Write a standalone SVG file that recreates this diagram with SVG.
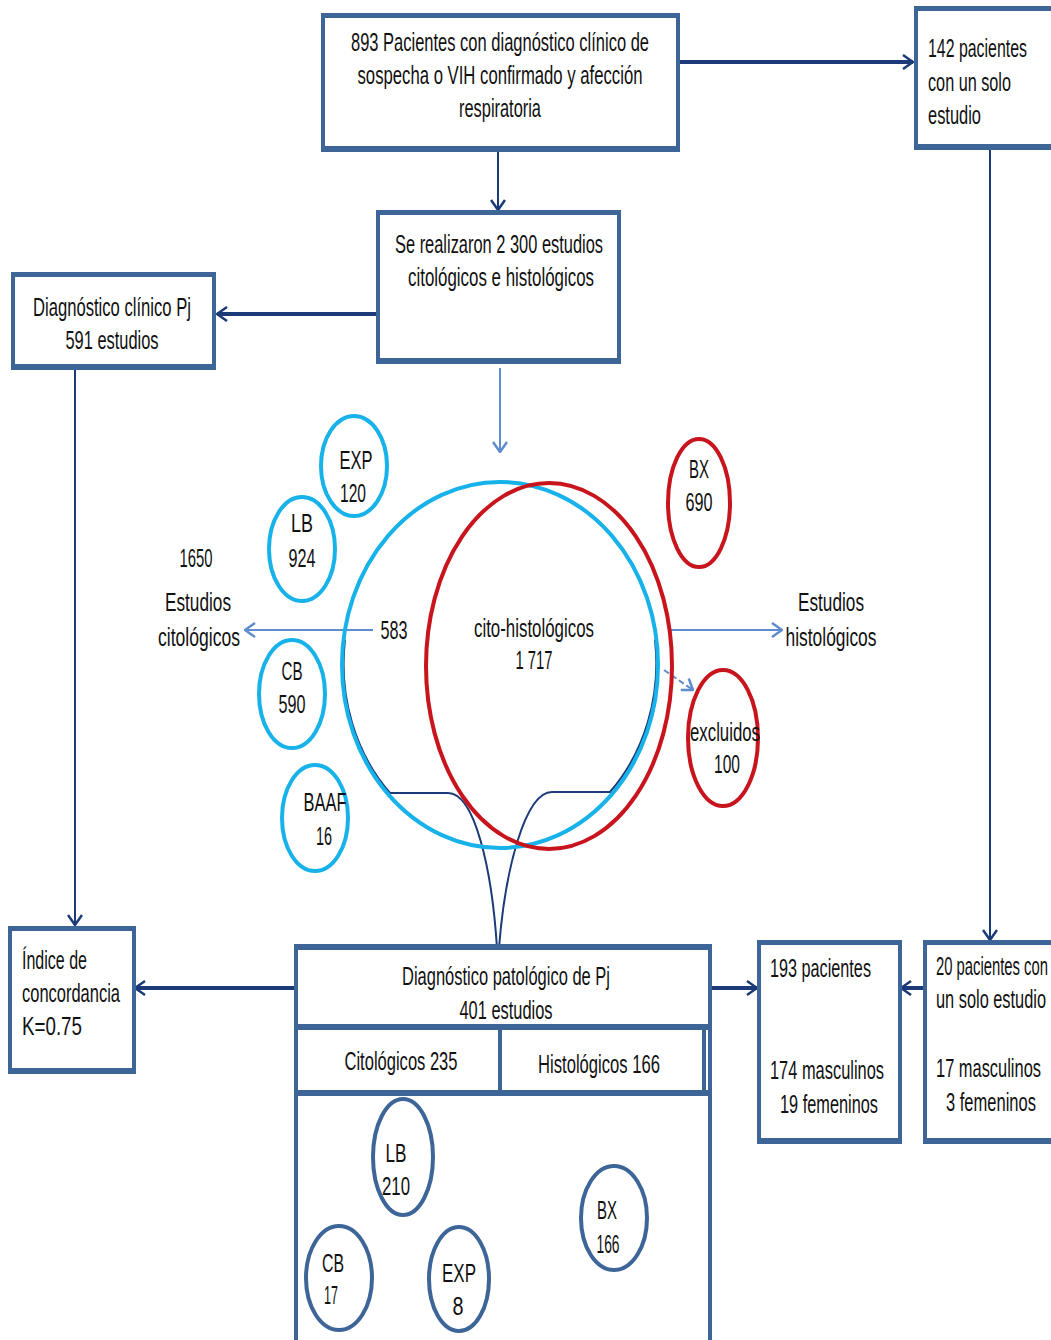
<svg xmlns="http://www.w3.org/2000/svg" width="1051" height="1340" viewBox="0 0 1051 1340">
<defs>
<style>
.box{fill:#fff;stroke:#3d6598;stroke-width:4}
.obox{fill:none;stroke:#3d6598;stroke-width:4}
.band{fill:#3d6598}
.t{font-family:"Liberation Sans Narrow","Liberation Sans",Arial,sans-serif;font-size:25px;fill:#111}
.m{text-anchor:middle}
.thick{stroke:#1b3a78;stroke-width:4;fill:none}
.thin{stroke:#1b3a78;stroke-width:2;fill:none}
.light{stroke:#5f8ccc;stroke-width:2;fill:none}
.cy{fill:none;stroke:#18b2ea;stroke-width:4}
.rd{fill:none;stroke:#c8141c;stroke-width:4}
.nv{fill:none;stroke:#3d6598;stroke-width:4}
</style>
<marker id="ad" viewBox="0 0 12 16" refX="11" refY="8" markerWidth="12" markerHeight="16" markerUnits="userSpaceOnUse" orient="auto"><path d="M1,1 L11,8 L1,15" fill="none" stroke="#1b3a78" stroke-width="2.5"/></marker>
<marker id="al" viewBox="0 0 12 16" refX="11" refY="8" markerWidth="12" markerHeight="16" markerUnits="userSpaceOnUse" orient="auto"><path d="M1,1 L11,8 L1,15" fill="none" stroke="#5f8ccc" stroke-width="2.5"/></marker>
</defs>
<rect width="1051" height="1340" fill="#fff"/>

<g id="connectors">
<line class="thick" x1="678" y1="62" x2="913" y2="62" marker-end="url(#ad)"/>
<line class="thin" x1="498" y1="150" x2="498" y2="210" marker-end="url(#ad)"/>
<line class="thick" x1="378" y1="314" x2="217" y2="314" marker-end="url(#ad)"/>
<line class="thin" x1="75" y1="368" x2="75" y2="925" marker-end="url(#ad)"/>
<line class="light" x1="500" y1="368" x2="500" y2="452" marker-end="url(#al)"/>
<line class="thin" x1="990" y1="148" x2="990" y2="940" marker-end="url(#ad)"/>
<line class="light" x1="373" y1="630" x2="245" y2="630" marker-end="url(#al)"/>
<line class="light" x1="668" y1="630" x2="782" y2="630" marker-end="url(#al)"/>
<line class="light" x1="664" y1="670" x2="693" y2="690" stroke-dasharray="6,3" marker-end="url(#al)"/>
<path class="thin" d="M345,640 A156,181 0 0 0 390,793 L448,793 C475,793 492,870 497,948"/>
<path class="thin" d="M655,640 A156,181 0 0 1 610,792 L552,792 C525,792 505,870 499,948"/>
<line class="thick" x1="295" y1="988" x2="135" y2="988" marker-end="url(#ad)"/>
<line class="thick" x1="710" y1="988" x2="757" y2="988" marker-end="url(#ad)"/>
<line class="thick" x1="925" y1="988" x2="901" y2="988" marker-end="url(#ad)"/>
</g>

<g id="n-top">
<rect class="box" x="323" y="15" width="355" height="135"/>
<rect class="band" x="321" y="13" width="359" height="5"/>
<rect class="band" x="321" y="146" width="359" height="5"/>
<text class="t m" x="500" y="51" textLength="298" lengthAdjust="spacingAndGlyphs">893 Pacientes con diagnóstico clínico de</text>
<text class="t m" x="500" y="84" textLength="285" lengthAdjust="spacingAndGlyphs">sospecha o VIH confirmado y afección</text>
<text class="t m" x="500" y="117" textLength="82" lengthAdjust="spacingAndGlyphs">respiratoria</text>
</g>

<g id="n-142">
<path class="obox" d="M1051,8 H916 V148 H1051"/>
<rect class="band" x="914" y="6" width="137" height="5"/>
<rect class="band" x="914" y="144" width="137" height="5"/>
<text class="t" x="928" y="57" textLength="99" lengthAdjust="spacingAndGlyphs">142 pacientes</text>
<text class="t" x="928" y="91" textLength="83" lengthAdjust="spacingAndGlyphs">con un solo</text>
<text class="t" x="928" y="124" textLength="53" lengthAdjust="spacingAndGlyphs">estudio</text>
</g>

<g id="n-2300">
<rect class="box" x="378" y="212" width="241" height="150"/>
<rect class="band" x="376" y="210" width="245" height="5"/>
<rect class="band" x="376" y="358" width="245" height="5"/>
<text class="t m" x="499" y="253" textLength="208" lengthAdjust="spacingAndGlyphs">Se realizaron 2 300 estudios</text>
<text class="t m" x="501" y="286" textLength="186" lengthAdjust="spacingAndGlyphs">citológicos e histológicos</text>
</g>

<g id="n-clinico">
<rect class="box" x="13" y="274" width="201" height="94"/>
<rect class="band" x="11" y="272" width="205" height="5"/>
<rect class="band" x="11" y="364" width="205" height="5"/>
<text class="t m" x="112" y="316" textLength="158" lengthAdjust="spacingAndGlyphs">Diagnóstico clínico Pj</text>
<text class="t m" x="112" y="349" textLength="93" lengthAdjust="spacingAndGlyphs">591 estudios</text>
</g>

<g id="n-venn">
<ellipse class="cy" cx="500" cy="665" rx="158" ry="183"/>
<ellipse class="rd" cx="549" cy="666" rx="123" ry="183"/>
<text class="t m" x="394" y="639" textLength="27" lengthAdjust="spacingAndGlyphs">583</text>
<text class="t m" x="534" y="637" textLength="120" lengthAdjust="spacingAndGlyphs">cito-histológicos</text>
<text class="t m" x="534" y="669" textLength="37" lengthAdjust="spacingAndGlyphs">1 717</text>
</g>

<g id="n-citologicos-label">
<text class="t m" x="196" y="567" textLength="33" lengthAdjust="spacingAndGlyphs">1650</text>
<text class="t m" x="198" y="611" textLength="66" lengthAdjust="spacingAndGlyphs">Estudios</text>
<text class="t m" x="199" y="646" textLength="82" lengthAdjust="spacingAndGlyphs">citológicos</text>
</g>

<g id="n-histologicos-label">
<text class="t m" x="831" y="611" textLength="66" lengthAdjust="spacingAndGlyphs">Estudios</text>
<text class="t m" x="831" y="646" textLength="91" lengthAdjust="spacingAndGlyphs">histológicos</text>
</g>

<g id="n-exp120">
<ellipse class="cy" cx="354" cy="466" rx="33" ry="50"/>
<text class="t m" x="356" y="469" textLength="33" lengthAdjust="spacingAndGlyphs">EXP</text>
<text class="t m" x="353" y="502" textLength="26" lengthAdjust="spacingAndGlyphs">120</text>
</g>
<g id="n-lb924">
<ellipse class="cy" cx="302" cy="549" rx="33" ry="52"/>
<text class="t m" x="302" y="532" textLength="22" lengthAdjust="spacingAndGlyphs">LB</text>
<text class="t m" x="302" y="567" textLength="27" lengthAdjust="spacingAndGlyphs">924</text>
</g>
<g id="n-cb590">
<ellipse class="cy" cx="292" cy="694" rx="33" ry="54"/>
<text class="t m" x="292" y="680" textLength="21" lengthAdjust="spacingAndGlyphs">CB</text>
<text class="t m" x="292" y="713" textLength="27" lengthAdjust="spacingAndGlyphs">590</text>
</g>
<g id="n-baaf16">
<ellipse class="cy" cx="315" cy="818" rx="33" ry="53"/>
<text class="t m" x="325" y="811" textLength="43" lengthAdjust="spacingAndGlyphs">BAAF</text>
<text class="t m" x="324" y="845" textLength="16" lengthAdjust="spacingAndGlyphs">16</text>
</g>
<g id="n-bx690">
<ellipse class="rd" cx="699" cy="503" rx="31" ry="64"/>
<text class="t m" x="699" y="478" textLength="20" lengthAdjust="spacingAndGlyphs">BX</text>
<text class="t m" x="699" y="511" textLength="27" lengthAdjust="spacingAndGlyphs">690</text>
</g>
<g id="n-excluidos">
<ellipse class="rd" cx="723" cy="738" rx="35" ry="68"/>
<text class="t m" x="725" y="741" textLength="70" lengthAdjust="spacingAndGlyphs">excluidos</text>
<text class="t m" x="727" y="773" textLength="26" lengthAdjust="spacingAndGlyphs">100</text>
</g>

<g id="n-indice">
<rect class="box" x="10" y="928" width="124" height="144"/>
<rect class="band" x="8" y="926" width="128" height="5"/>
<rect class="band" x="8" y="1068" width="128" height="5"/>
<text class="t" x="22" y="969" textLength="65" lengthAdjust="spacingAndGlyphs">Índice de</text>
<text class="t" x="22" y="1002" textLength="98" lengthAdjust="spacingAndGlyphs">concordancia</text>
<text class="t" x="22" y="1035" textLength="60" lengthAdjust="spacingAndGlyphs">K=0.75</text>
</g>

<g id="n-patologico">
<path class="obox" d="M296,1340 V946 H710 V1340" fill="#fff"/>
<rect class="band" x="294" y="944" width="418" height="6"/>
<rect class="band" x="294" y="1024" width="416" height="6"/>
<line x1="500" y1="1028" x2="500" y2="1094" stroke="#3d6598" stroke-width="4"/>
<line x1="704" y1="1028" x2="704" y2="1094" stroke="#3d6598" stroke-width="4"/>
<rect class="band" x="294" y="1090" width="416" height="6"/>
<text class="t m" x="506" y="985" textLength="208" lengthAdjust="spacingAndGlyphs">Diagnóstico patológico de Pj</text>
<text class="t m" x="506" y="1019" textLength="93" lengthAdjust="spacingAndGlyphs">401 estudios</text>
<text class="t m" x="401" y="1070" textLength="113" lengthAdjust="spacingAndGlyphs">Citológicos 235</text>
<text class="t m" x="599" y="1073" textLength="122" lengthAdjust="spacingAndGlyphs">Histológicos 166</text>
</g>

<g id="n-lb210">
<ellipse class="nv" cx="403" cy="1157" rx="30" ry="58"/>
<text class="t m" x="396" y="1162" textLength="21" lengthAdjust="spacingAndGlyphs">LB</text>
<text class="t m" x="396" y="1195" textLength="28" lengthAdjust="spacingAndGlyphs">210</text>
</g>
<g id="n-bx166">
<ellipse class="nv" cx="614" cy="1218" rx="33" ry="52"/>
<text class="t m" x="607" y="1219" textLength="20" lengthAdjust="spacingAndGlyphs">BX</text>
<text class="t m" x="608" y="1253" textLength="23" lengthAdjust="spacingAndGlyphs">166</text>
</g>
<g id="n-cb17">
<ellipse class="nv" cx="339" cy="1278" rx="33" ry="52"/>
<text class="t m" x="333" y="1272" textLength="22" lengthAdjust="spacingAndGlyphs">CB</text>
<text class="t m" x="331" y="1304" textLength="14" lengthAdjust="spacingAndGlyphs">17</text>
</g>
<g id="n-exp8">
<ellipse class="nv" cx="459" cy="1279" rx="30" ry="52"/>
<text class="t m" x="459" y="1282" textLength="34" lengthAdjust="spacingAndGlyphs">EXP</text>
<text class="t m" x="458" y="1315" textLength="11" lengthAdjust="spacingAndGlyphs">8</text>
</g>

<g id="n-193">
<rect class="box" x="759" y="942" width="141" height="200"/>
<rect class="band" x="757" y="940" width="145" height="5"/>
<rect class="band" x="757" y="1138" width="145" height="5"/>
<text class="t" x="770" y="977" textLength="101" lengthAdjust="spacingAndGlyphs">193 pacientes</text>
<text class="t m" x="827" y="1079" textLength="114" lengthAdjust="spacingAndGlyphs">174 masculinos</text>
<text class="t m" x="829" y="1113" textLength="98" lengthAdjust="spacingAndGlyphs">19 femeninos</text>
</g>

<g id="n-20">
<path class="obox" d="M1051,942 H925 V1142 H1051"/>
<rect class="band" x="923" y="940" width="128" height="5"/>
<rect class="band" x="923" y="1138" width="128" height="5"/>
<text class="t" x="936" y="975" textLength="112" lengthAdjust="spacingAndGlyphs">20 pacientes con</text>
<text class="t" x="936" y="1008" textLength="110" lengthAdjust="spacingAndGlyphs">un solo estudio</text>
<text class="t" x="936" y="1077" textLength="105" lengthAdjust="spacingAndGlyphs">17 masculinos</text>
<text class="t m" x="991" y="1111" textLength="90" lengthAdjust="spacingAndGlyphs">3 femeninos</text>
</g>
</svg>
